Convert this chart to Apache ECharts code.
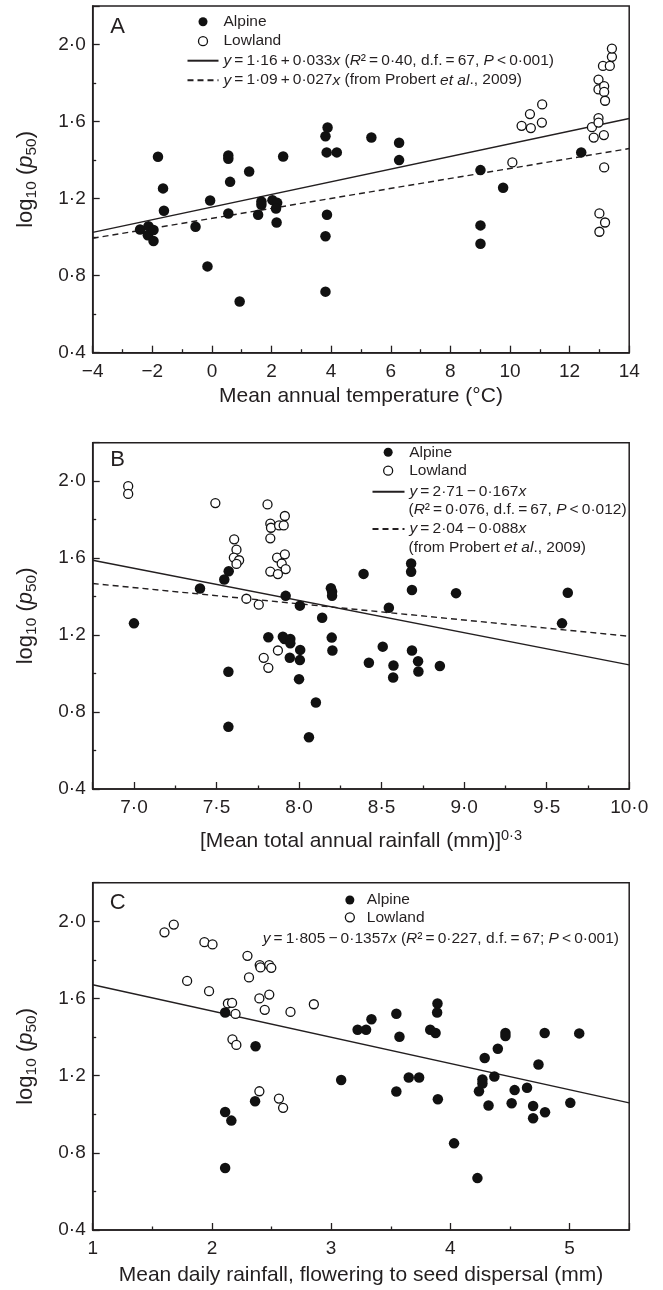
<!DOCTYPE html>
<html><head><meta charset="utf-8">
<script src="https://cdn.jsdelivr.net/npm/echarts@6/dist/echarts.min.js"></script>
<style>html,body{margin:0;padding:0;background:#fff}#c{width:663px;height:1290px}</style>
</head><body><div id="c"></div>
<script>
// ---------- data ----------
const alpineA = [[-2.41,1.04],[-2.13,1.057],[-2.15,1.01],[-1.96,1.037],[-1.96,0.98],[-1.81,1.417],[-1.64,1.253],[-1.61,1.137],[-0.55,1.054],[-0.06,1.19],[-0.15,0.848],[0.55,1.424],[0.55,1.407],[0.61,1.287],[0.55,1.123],[0.93,0.666],[1.25,1.341],[1.55,1.116],[1.66,1.185],[1.66,1.168],[2.03,1.192],[2.19,1.178],[2.15,1.149],[2.17,1.076],[2.39,1.419],[3.81,1.524],[3.88,1.569],[3.85,1.44],[4.19,1.44],[3.86,1.116],[3.81,1.005],[3.81,0.717],[5.35,1.517],[6.28,1.49],[6.28,1.40],[9.01,1.348],[9.01,1.061],[9.01,0.966],[9.77,1.256],[12.39,1.44]];
const lowlandA = [[10.08,1.388],[10.39,1.578],[10.70,1.566],[10.67,1.639],[11.07,1.595],[11.08,1.689],[12.75,1.571],[12.81,1.517],[12.97,1.618],[12.97,1.595],[13.15,1.53],[12.97,1.818],[12.97,1.767],[13.12,1.889],[13.16,1.784],[13.16,1.754],[13.19,1.708],[13.35,1.889],[13.42,1.936],[13.42,1.979],[13.16,1.362],[13.0,1.123],[13.19,1.076],[13.0,1.028]];
const fitA = [[-4,1.025],[14,1.616]];
const probertA = [[-4,0.994],[14,1.46]];

const alpineB = [[7.0,1.261],[7.40,1.442],[7.547,1.489],[7.574,1.532],[7.572,1.009],[7.572,0.723],[7.814,1.189],[7.902,1.192],[7.919,1.404],[7.912,1.18],[7.947,1.18],[7.947,1.158],[7.944,1.082],[8.005,1.353],[8.007,1.123],[8.005,1.07],[8.0,0.971],[8.102,0.85],[8.06,0.669],[8.14,1.29],[8.193,1.444],[8.2,1.425],[8.2,1.404],[8.198,1.187],[8.202,1.12],[8.391,1.518],[8.507,1.14],[8.423,1.056],[8.544,1.342],[8.572,1.042],[8.57,0.98],[8.679,1.572],[8.679,1.529],[8.684,1.434],[8.684,1.12],[8.721,1.064],[8.723,1.011],[8.853,1.039],[8.951,1.418],[9.593,1.261],[9.628,1.42]];
const lowlandB = [[6.965,1.974],[6.965,1.934],[7.493,1.886],[7.607,1.698],[7.621,1.644],[7.605,1.603],[7.637,1.589],[7.621,1.57],[7.681,1.389],[7.756,1.358],[7.809,1.879],[7.826,1.779],[7.83,1.758],[7.826,1.703],[7.879,1.77],[7.907,1.77],[7.914,1.819],[7.867,1.603],[7.895,1.572],[7.914,1.62],[7.919,1.543],[7.826,1.53],[7.872,1.517],[7.872,1.12],[7.786,1.082],[7.814,1.03]];
const fitB = [[6.75,1.589],[10,1.045]];
const probertB = [[6.75,1.468],[10,1.194]];

const alpineC = [[2.111,1.527],[2.366,1.352],[2.362,1.067],[2.111,1.012],[2.163,0.967],[2.111,0.721],[3.084,1.177],[3.222,1.438],[3.293,1.438],[3.338,1.492],[3.547,1.521],[3.573,1.402],[3.547,1.118],[3.651,1.19],[3.738,1.19],[3.831,1.438],[3.876,1.421],[3.892,1.574],[3.889,1.527],[3.895,1.078],[4.031,0.849],[4.227,0.669],[4.24,1.119],[4.269,1.18],[4.269,1.159],[4.288,1.291],[4.32,1.045],[4.369,1.196],[4.398,1.339],[4.462,1.421],[4.462,1.405],[4.539,1.125],[4.514,1.057],[4.643,1.137],[4.694,1.043],[4.694,0.979],[4.739,1.258],[4.794,1.01],[4.791,1.421],[5.006,1.059],[5.081,1.419]];
const lowlandC = [[1.602,1.943],[1.68,1.983],[1.937,1.892],[2.005,1.88],[1.792,1.691],[1.976,1.638],[2.134,1.574],[2.169,1.577],[2.198,1.52],[2.172,1.388],[2.205,1.359],[2.298,1.821],[2.311,1.709],[2.401,1.773],[2.407,1.761],[2.481,1.773],[2.498,1.759],[2.398,1.6],[2.481,1.62],[2.443,1.541],[2.659,1.53],[2.855,1.57],[2.398,1.119],[2.562,1.081],[2.597,1.033]];
const fitC = [[1,1.671],[5.5,1.059]];

const yTicks = [0.4, 0.8, 1.2, 1.6, 2.0];
const xTicksA = [-4, -2, 0, 2, 4, 6, 8, 10, 12, 14];
const xTicksB = [7.0, 7.5, 8.0, 8.5, 9.0, 9.5, 10.0];
const xTicksC = [1, 2, 3, 4, 5];

// ---------- styling ----------
const FONT = '"Liberation Sans", Arial, Helvetica, sans-serif';
const INK = '#231f20';
const T = '\u2009';
const LF = 15.5;
function dot(v, d) { const s = Math.abs(v).toFixed(d).replace('.', '·'); return (v < 0 ? '−' : '') + s; }
function inList(list, v) { return list.some(t => Math.abs(t - v) < 1e-6); }

const legendRich = {
  i: {fontSize: LF, fontFamily: FONT, fontStyle: 'italic', color: INK},
  n: {fontSize: LF, fontFamily: FONT, color: INK}
};
const legendLabels = {
  Alpine: 'Alpine',
  Lowland: 'Lowland',
  fitA: '{i|y}' + T + '=' + T + '1·16' + T + '+' + T + '0·033{i|x} ({i|R}²' + T + '=' + T + '0·40, d.f.' + T + '=' + T + '67, {i|P}' + T + '<' + T + '0·001)',
  probertA: '{i|y}' + T + '=' + T + '1·09' + T + '+' + T + '0·027{i|x} (from Probert {i|et al}., 2009)',
  fitB: '{i|y}' + T + '=' + T + '2·71' + T + '−' + T + '0·167{i|x}',
  probertB: '{i|y}' + T + '=' + T + '2·04' + T + '−' + T + '0·088{i|x}'
};

const grids = [
  {left: 92.7, width: 536.5, top: 6, height: 346.7},
  {left: 92.7, width: 536.5, top: 442.7, height: 346.3},
  {left: 92.7, width: 536.5, top: 882.7, height: 347.3}
].map(g => Object.assign({show: true, borderColor: INK, borderWidth: 1.5, backgroundColor: 'transparent', containLabel: false, outerBoundsMode: 'none'}, g));

const tickCommon = {
  axisLine: {show: true, onZero: false, lineStyle: {color: INK, width: 1.5}},
  axisTick: {show: true, inside: true, length: 7, lineStyle: {color: INK, width: 1.3}},
  minorTick: {show: true, splitNumber: 2, length: 3.5, lineStyle: {color: INK, width: 1.3}},
  splitLine: {show: false},
  minorSplitLine: {show: false}
};

function yAxis(gi) {
  return Object.assign({}, tickCommon, {
    type: 'value', gridIndex: gi, min: 0.4, max: 2.2, interval: 0.4,
    axisLabel: {margin: 7, fontSize: 19, color: INK, fontFamily: FONT, formatter: v => inList(yTicks, v) ? dot(v, 1) : ''},
    name: '{n|log}{s|10}{n| (}{i|p}{s|50}{n|)}', nameLocation: 'middle', nameGap: 53, nameRotate: 90, nameMoveOverlap: false,
    nameTextStyle: {rich: {
      n: {fontSize: 22, fontFamily: FONT, color: INK, lineHeight: 27},
      i: {fontSize: 22, fontFamily: FONT, fontStyle: 'italic', color: INK, lineHeight: 27},
      s: {fontSize: 15.5, fontFamily: FONT, color: INK, lineHeight: 15.5, verticalAlign: 'bottom'}
    }}
  });
}
function xAxis(gi, opt) {
  return Object.assign({}, tickCommon, {type: 'value', gridIndex: gi, nameLocation: 'middle', nameMoveOverlap: false}, opt);
}

const xAxes = [
  xAxis(0, {min: -4, max: 14, interval: 2,
    axisLabel: {margin: 9.5, fontSize: 19, color: INK, fontFamily: FONT, formatter: v => inList(xTicksA, v) ? dot(v, 0) : ''},
    name: 'Mean annual temperature (°C)', nameGap: 33,
    nameTextStyle: {fontSize: 21, fontFamily: FONT, color: INK}}),
  xAxis(1, {min: 6.75, max: 10, splitNumber: 6,
    axisLabel: {margin: 9.5, fontSize: 19, color: INK, fontFamily: FONT, formatter: v => inList(xTicksB, v) ? dot(v, 1) : ''},
    name: '{n|[Mean total annual rainfall (mm)]}{sup|0·3}', nameGap: 39,
    nameTextStyle: {rich: {
      n: {fontSize: 21, fontFamily: FONT, color: INK, lineHeight: 27},
      sup: {fontSize: 14.5, fontFamily: FONT, color: INK, lineHeight: 14.5, verticalAlign: 'top'}
    }}}),
  xAxis(2, {min: 1, max: 5.5, interval: 1,
    axisLabel: {margin: 9.5, fontSize: 19, color: INK, fontFamily: FONT, formatter: v => inList(xTicksC, v) ? dot(v, 0) : ''},
    name: 'Mean daily rainfall, flowering to seed dispersal (mm)', nameGap: 35,
    nameTextStyle: {fontSize: 21, fontFamily: FONT, color: INK}})
];

function alpine(i, data) {
  return {type: 'scatter', name: 'Alpine', xAxisIndex: i, yAxisIndex: i, data, symbol: 'circle', symbolSize: 10.5,
    itemStyle: {color: '#111', borderColor: '#111', borderWidth: 0, opacity: 1}, emphasis: {disabled: true}, z: 3};
}
function lowland(i, data) {
  return {type: 'scatter', name: 'Lowland', xAxisIndex: i, yAxisIndex: i, data, symbol: 'circle', symbolSize: 9,
    itemStyle: {color: '#fff', borderColor: '#111', borderWidth: 1.3, opacity: 1}, emphasis: {disabled: true}, z: 4};
}
function fitLine(i, name, data, dashed) {
  return {type: 'line', name, xAxisIndex: i, yAxisIndex: i, data, symbol: 'none', showSymbol: false, silent: true,
    itemStyle: {color: INK, opacity: 0},
    lineStyle: {color: INK, width: 1.4, type: dashed ? [6, 4] : 'solid'}, z: 2, animation: false};
}

const legendCommon = {orient: 'vertical', padding: 0, selectedMode: false, itemHeight: 9,
  formatter: n => legendLabels[n] || n,
  textStyle: {fontSize: LF, fontFamily: FONT, color: INK, rich: legendRich}};
const circleData = [{name: 'Alpine'}, {name: 'Lowland', itemStyle: {borderWidth: 1.3}}];
const lineItem = n => ({name: n, itemStyle: {opacity: 0, color: 'rgba(0,0,0,0)', borderWidth: 0}});

const option = {
  animation: false,
  backgroundColor: '#fff',
  grid: grids,
  xAxis: xAxes,
  yAxis: [yAxis(0), yAxis(1), yAxis(2)],
  legend: [
    Object.assign({}, legendCommon, {left: 186.5, top: 13.7, itemWidth: 31, itemGap: 3.5,
      data: circleData.concat([lineItem('fitA'), lineItem('probertA')])}),
    Object.assign({}, legendCommon, {left: 383, top: 444.3, itemWidth: 32, itemGap: 2.4, data: circleData}),
    Object.assign({}, legendCommon, {left: 371.5, top: 483.7, itemWidth: 32, data: [lineItem('fitB')]}),
    Object.assign({}, legendCommon, {left: 371.5, top: 521, itemWidth: 32, data: [lineItem('probertB')]}),
    Object.assign({}, legendCommon, {left: 344.7, top: 892, itemWidth: 24, itemGap: 1.3, data: circleData})
  ],
  graphic: [
    {type: 'text', x: 117.7, y: 26.7, style: {text: 'A', font: '22px ' + FONT, fill: INK, align: 'center', verticalAlign: 'middle'}},
    {type: 'text', x: 117.7, y: 460, style: {text: 'B', font: '22px ' + FONT, fill: INK, align: 'center', verticalAlign: 'middle'}},
    {type: 'text', x: 117.7, y: 903.3, style: {text: 'C', font: '22px ' + FONT, fill: INK, align: 'center', verticalAlign: 'middle'}},
    {type: 'text', x: 408.5, y: 510, style: {
      text: '({i|R}²' + T + '=' + T + '0·076, d.f.' + T + '=' + T + '67, {i|P}' + T + '<' + T + '0·012)',
      fontSize: LF, fontFamily: FONT, fill: INK, verticalAlign: 'middle', rich: {
        i: {fontSize: LF, fontFamily: FONT, fontStyle: 'italic', fill: INK}}}},
    {type: 'text', x: 408.5, y: 547.7, style: {
      text: '(from Probert {i|et al}., 2009)',
      fontSize: LF, fontFamily: FONT, fill: INK, verticalAlign: 'middle', rich: {
        i: {fontSize: LF, fontFamily: FONT, fontStyle: 'italic', fill: INK}}}},
    {type: 'text', x: 262.7, y: 938.3, style: {
      text: '{i|y}' + T + '=' + T + '1·805' + T + '−' + T + '0·1357{i|x} ({i|R}²' + T + '=' + T + '0·227, d.f.' + T + '=' + T + '67; {i|P}' + T + '<' + T + '0·001)',
      fontSize: LF, fontFamily: FONT, fill: INK, verticalAlign: 'middle', rich: {
        i: {fontSize: LF, fontFamily: FONT, fontStyle: 'italic', fill: INK}}}}
  ],
  series: [
    fitLine(0, 'fitA', fitA, false), fitLine(0, 'probertA', probertA, true),
    alpine(0, alpineA), lowland(0, lowlandA),
    fitLine(1, 'fitB', fitB, false), fitLine(1, 'probertB', probertB, true),
    alpine(1, alpineB), lowland(1, lowlandB),
    fitLine(2, 'fitC', fitC, false),
    alpine(2, alpineC), lowland(2, lowlandC)
  ]
};
const chart = echarts.init(document.getElementById('c'), null, {renderer: 'canvas'});
chart.setOption(option);
</script></body></html>
